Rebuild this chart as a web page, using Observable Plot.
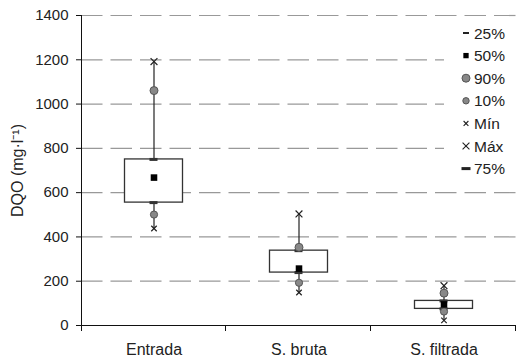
<!DOCTYPE html>
<html>
<head>
<meta charset="utf-8">
<script src="https://cdn.jsdelivr.net/npm/d3@7"></script>
<script src="https://cdn.jsdelivr.net/npm/@observablehq/plot@0.6"></script>
<style>
  html, body { margin: 0; padding: 0; background: #fff; }
  #wrap { position: relative; width: 517px; height: 360px; font-family: "Liberation Sans", Arial, sans-serif; }
  #legend { position: absolute; left: 444px; top: 22px; }
</style>
</head>
<body>
<div id="wrap"></div>
<script>
const categories = ["Entrada", "S. bruta", "S. filtrada"];
const minVals    = [438, 149, 23];
const p10Vals    = [501, 193, 63];
const q25Vals    = [555, 239, 75];
const medianVals = [668, 257, 95];
const q75Vals    = [750, 338, 111];
const p90Vals    = [1061, 353, 146];
const maxVals    = [1192, 504, 180];
const yTicks = [0, 200, 400, 600, 800, 1000, 1200, 1400];
const legendLabels = ["25%", "50%", "90%", "10%", "Mín", "Máx", "75%"];

const data = categories.map((c, i) => ({
  cat: c, min: minVals[i], p10: p10Vals[i], q25: q25Vals[i], median: medianVals[i],
  q75: q75Vals[i], p90: p90Vals[i], max: maxVals[i]
}));

const W = 517, H = 360, mL = 81, mR = 1, mT = 15, mB = 35;
const bw = (W - mL - mR) / categories.length;
const boxW = 58;
const inset = (bw - boxW) / 2;
const tickInset = (bw - 8) / 2;

const axisLines = (index, scales, values, dims) => {
  const g = d3.create("svg:g").attr("stroke", "#111").attr("stroke-width", 1).attr("fill", "none");
  const x = scales.x, y = scales.y;
  const y0 = y(0);
  g.append("line").attr("x1", mL + 0.5).attr("x2", mL + 0.5).attr("y1", y(1400)).attr("y2", y0 + 6);
  g.append("line").attr("x1", mL).attr("x2", W - mR).attr("y1", y0 + 0.5).attr("y2", y0 + 0.5);
  categories.forEach((c) => {
    const xe = x(c) + bw;
    g.append("line").attr("x1", xe - 0.5).attr("x2", xe - 0.5).attr("y1", y0).attr("y2", y0 + 6);
  });
  return g.node();
};

const chart = Plot.plot({
  width: W, height: H,
  marginLeft: mL, marginRight: mR, marginTop: mT, marginBottom: mB,
  style: { fontFamily: "'Liberation Sans', Arial, sans-serif", color: "#222", background: "white" },
  x: { domain: categories, padding: 0, label: null },
  y: { domain: [0, 1400], label: null },
  marks: [
    Plot.ruleY(yTicks.filter(d => d > 0), { stroke: "#999", strokeWidth: 1.2, strokeDasharray: "21.5,8" }),
    Plot.axisY({ ticks: yTicks, tickFormat: d3.format("d"), tickSize: 5, tickPadding: 8, fontSize: 15, stroke: "#111", label: null }),
    Plot.axisY({ ticks: [], tickSize: 0, fontSize: 16,
      label: "DQO (mg·l⁻¹)", labelAnchor: "center", labelArrow: "none", labelOffset: 70 }),
    Plot.axisX({ tickSize: 0, tickPadding: 18, fontSize: 16, label: null }),
    axisLines,
    Plot.ruleX(data, { x: "cat", y1: "min", y2: "max", stroke: "#222", strokeWidth: 1.2 }),
    Plot.barY(data, { x: "cat", y1: "q25", y2: "q75", fill: "white", stroke: "#333", strokeWidth: 1.3, insetLeft: inset, insetRight: inset }),
    Plot.tickY(data, { x: "cat", y: "q25", stroke: "#333", strokeWidth: 3, insetLeft: tickInset, insetRight: tickInset }),
    Plot.tickY(data, { x: "cat", y: "q75", stroke: "#333", strokeWidth: 3, insetLeft: tickInset, insetRight: tickInset }),
    Plot.dot(data, { x: "cat", y: "p90", r: 4, fill: "#888", stroke: "#555", strokeWidth: 1 }),
    Plot.dot(data, { x: "cat", y: "p10", r: 3.6, fill: "#888", stroke: "#555", strokeWidth: 1 }),
    Plot.dot(data, { x: "cat", y: "median", symbol: "square", r: 3.7, fill: "black", stroke: "none" }),
    Plot.dot(data, { x: "cat", y: "min", symbol: "times", r: 2.6, stroke: "#222", strokeWidth: 1.2 }),
    Plot.dot(data, { x: "cat", y: "max", symbol: "times", r: 3.2, stroke: "#222", strokeWidth: 1.2 })
  ]
});

const wrap = document.getElementById("wrap");
wrap.appendChild(chart);

// legend overlay
const lg = d3.select(wrap).append("svg").attr("id", "legend")
  .attr("width", 73).attr("height", 158)
  .style("background", "white");
const rowY = (i) => 11 + i * 22.6;
const sx = 22;
const sym = (type, r) => d3.symbol(type, r * r * Math.PI)();
legendLabels.forEach((lab, i) => {
  const g = lg.append("g").attr("transform", `translate(0,${rowY(i)})`);
  if (i === 0) g.append("rect").attr("x", sx - 3).attr("y", -1).attr("width", 6).attr("height", 2).attr("fill", "#222");
  if (i === 1) g.append("path").attr("transform", `translate(${sx},0)`).attr("d", sym(d3.symbolSquare, 3)).attr("fill", "black");
  if (i === 2) g.append("circle").attr("cx", sx).attr("cy", 0).attr("r", 4).attr("fill", "#888").attr("stroke", "#555");
  if (i === 3) g.append("circle").attr("cx", sx).attr("cy", 0).attr("r", 3.2).attr("fill", "#888").attr("stroke", "#555");
  if (i === 4) g.append("path").attr("transform", `translate(${sx},0)`).attr("d", sym(d3.symbolTimes, 2.3)).attr("stroke", "#222").attr("stroke-width", 1.1).attr("fill", "none");
  if (i === 5) g.append("path").attr("transform", `translate(${sx},0)`).attr("d", sym(d3.symbolTimes, 3.2)).attr("stroke", "#222").attr("stroke-width", 1.1).attr("fill", "none");
  if (i === 6) g.append("rect").attr("x", sx - 4.5).attr("y", -1.5).attr("width", 9).attr("height", 3).attr("fill", "#222");
  g.append("text").attr("x", 30).attr("y", 0).attr("dy", "0.36em")
    .attr("font-size", 15.5).attr("fill", "#222")
    .attr("font-family", "'Liberation Sans', Arial, sans-serif").text(lab);
});
</script>
</body>
</html>
